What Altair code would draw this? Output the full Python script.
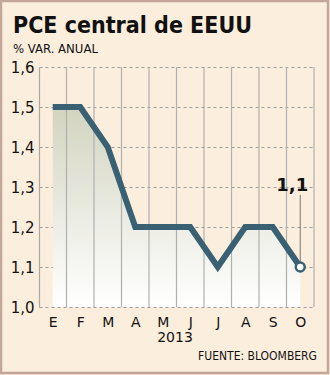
import altair as alt
import pandas as pd

months = ["E", "F", "M", "A", "M", "J", "J", "A", "S", "O"]
values = [1.5, 1.5, 1.4, 1.2, 1.2, 1.2, 1.1, 1.2, 1.2, 1.1]
year_label = "2013"
title = "PCE central de EEUU"
subtitle = "% VAR. ANUAL"
source = "FUENTE: BLOOMBERG"
y_ticks = [1.0, 1.1, 1.2, 1.3, 1.4, 1.5, 1.6]
boundaries = list(range(1, 11))

df = pd.DataFrame({"pos": [i + 0.5 for i in range(len(months))], "value": values, "month": months})
last = df.tail(1).copy()
last["label"] = last["value"].map(lambda v: f"{v:.1f}".replace(".", ","))
last["top"] = last["value"] + 0.18

BG = "#FCEEDC"
LINE = "#3A6173"
FONT = "DejaVu Sans"
COND = "DejaVu Sans Condensed, DejaVu Sans"

label_expr = "[" + ",".join(f"'{m}'" for m in months) + "][floor(datum.value)]"

x_scale = alt.Scale(domain=[0, 10], nice=False, zero=False)
y_scale = alt.Scale(domain=[1.0, 1.6], nice=False, zero=False)

x_axis = alt.Axis(values=[i + 0.5 for i in range(len(months))], labelExpr=label_expr, grid=False,
                  domain=False, ticks=False, labelFont=FONT, labelFontSize=14, labelColor="#111",
                  labelPadding=8, title=None, labelOverlap=False)
y_axis = alt.Axis(values=y_ticks, labelExpr="replace(format(datum.value, '.1f'), '.', ',')",
                  grid=True, gridDash=[3, 3], gridColor="#9a9a9a", gridWidth=1,
                  domain=True, domainColor="#a8a8a8", domainWidth=1.2, ticks=False,
                  labelFont=FONT, labelFontSize=15, labelColor="#111", labelPadding=5, title=None,
                  labelOverlap=False)

X = lambda f: alt.X(f, scale=x_scale, axis=x_axis)
Y = lambda f: alt.Y(f, scale=y_scale, axis=y_axis)

base = alt.Chart(df)

vgrid = alt.Chart(pd.DataFrame({"b": boundaries})).mark_rule(color="#b0b0b0", strokeWidth=1.2).encode(
    x=X("b:Q"),
    y=alt.value(0), y2=alt.value(240),
)

area = base.mark_area(
    color=alt.Gradient(gradient="linear",
                       stops=[alt.GradientStop(color="#D2D4BF", offset=0),
                              alt.GradientStop(color="#FFFFFF", offset=1)],
                       x1=0, x2=0, y1=0, y2=1),
    opacity=1,
).encode(
    x=X("pos:Q"),
    y=Y("value:Q"),
    y2=alt.datum(1.0),
)

line = base.mark_line(color=LINE, strokeWidth=6, strokeJoin="miter", strokeCap="butt").encode(
    x=X("pos:Q"),
    y=Y("value:Q"),
)

connector = alt.Chart(last).mark_rule(color="#777", strokeWidth=1).encode(
    x=X("pos:Q"),
    y=Y("top:Q"),
    y2=alt.Y2("value:Q"),
)

point = alt.Chart(last).mark_point(filled=True, fill="white", stroke=LINE, strokeWidth=2.5,
                                   size=80, opacity=1, shape="circle").encode(
    x=X("pos:Q"),
    y=Y("value:Q"),
)

label = alt.Chart(last).mark_text(font=FONT, fontSize=18, fontWeight="bold", color="#111",
                                  dy=-81, dx=-8, baseline="middle").encode(
    x=X("pos:Q"),
    y=Y("value:Q"),
    text="label:N",
)

one = alt.Data(values=[{}])
frame = alt.Chart(one).mark_rect(fill=None, stroke="#C2A699", strokeWidth=2.5).encode(
    x=alt.value(-38), x2=alt.value(289), y=alt.value(-66), y2=alt.value(306))
t_title = alt.Chart(one).mark_text(text=title, font=COND, fontSize=23, fontWeight="bold",
                                   color="#111", align="left", baseline="alphabetic").encode(
    x=alt.value(-26), y=alt.value(-34))
t_sub = alt.Chart(one).mark_text(text=subtitle, font=COND, fontSize=13, color="#111",
                                 align="left", baseline="alphabetic").encode(
    x=alt.value(-26), y=alt.value(-14))
t_year = alt.Chart(one).mark_text(text=year_label, font=FONT, fontSize=14, color="#111",
                                  align="center", baseline="alphabetic").encode(
    x=alt.value(136), y=alt.value(275))
t_src = alt.Chart(one).mark_text(text=source, font=COND, fontSize=12, color="#111",
                                 align="right", baseline="alphabetic").encode(
    x=alt.value(278), y=alt.value(293))

chart = alt.layer(
    area, vgrid, line, connector, point, label, frame, t_title, t_sub, t_year, t_src
).properties(
    width=275, height=240,
    padding={"left": 39, "top": 67, "right": 16, "bottom": 68},
    autosize=alt.AutoSizeParams(type="none"),
    background=BG,
).configure_view(stroke=None)

chart.save("out.html", embed_options={"renderer": "svg", "actions": False})
